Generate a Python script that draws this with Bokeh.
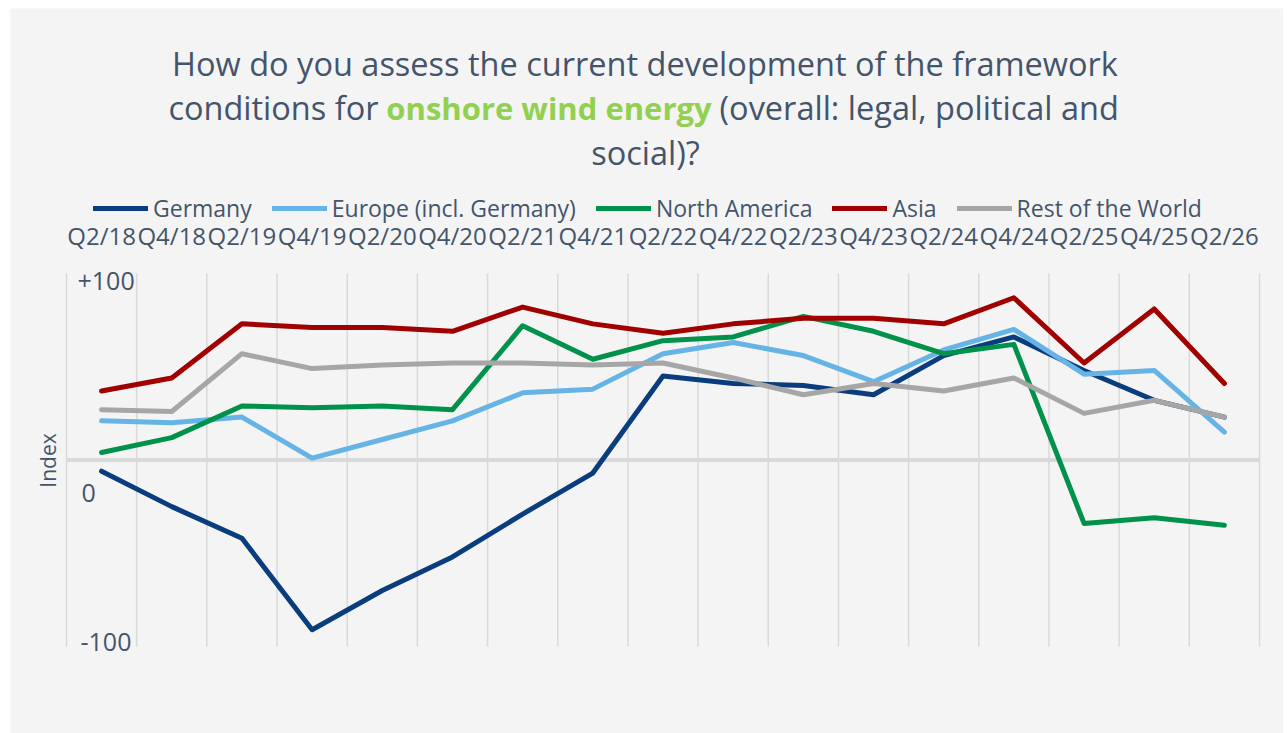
import math
from bokeh.plotting import figure
from bokeh.models import Range1d, Label, Legend, LegendItem
from bokeh.embed import file_html
from bokeh.resources import INLINE

# ---------------- data ----------------
quarters = ["Q2/18", "Q4/18", "Q2/19", "Q4/19", "Q2/20", "Q4/20", "Q2/21", "Q4/21",
            "Q2/22", "Q4/22", "Q2/23", "Q4/23", "Q2/24", "Q4/24", "Q2/25", "Q4/25", "Q2/26"]
germany = [-6, -25, -42, -91, -70, -52, -29, -7, 45, 41, 40, 35, 56, 66, 48, 32, 23]
europe = [21, 20, 23, 1, 11, 21, 36, 38, 57, 63, 56, 42, 59, 70, 46, 48, 15]
north_america = [4, 12, 29, 28, 29, 27, 72, 54, 64, 66, 77, 69, 57, 62, -34, -31, -35]
asia = [37, 44, 73, 71, 71, 69, 82, 73, 68, 73, 76, 76, 73, 87, 52, 81, 41]
rest_of_world = [27, 26, 57, 49, 51, 52, 52, 51, 52, 44, 35, 41, 37, 44, 25, 32, 23]

series_names = ["Germany", "Europe (incl. Germany)", "North America", "Asia", "Rest of the World"]
series_values = [germany, europe, north_america, asia, rest_of_world]
series_colors = ["#0a3d7e", "#66b4e6", "#00914b", "#a00000", "#a6a6a6"]

TEXT = "#44546a"
GREEN = "#92d050"
BG = "#f4f4f4"
FONT = "Open Sans"

n = len(quarters)
xs = [i + 0.5 for i in range(n)]

# page-pixel geometry of the panel and of the plotting area
PX0, PY0 = 10, 8            # panel top-left on the page
W, H = 1273, 725            # panel size
AL, AT, AW, AH = 66, 273, 1193, 373   # plotting area (page pixels)
YMIN, YMAX = -100, 100


def fx(page_x):
    return (page_x - AL) * n / AW


def fy(page_y):
    return YMAX - (page_y - AT) * (YMAX - YMIN) / AH


p = figure(width=W, height=H,
           x_range=Range1d(fx(PX0), fx(PX0 + W)),
           y_range=Range1d(fy(PY0 + H), fy(PY0)),
           output_backend="svg", toolbar_location=None,
           x_axis_location=None, y_axis_location=None,
           min_border=0, title=None)
p.margin = (PY0, 0, 0, PX0)
p.background_fill_color = BG
p.border_fill_color = BG
p.outline_line_color = None
p.grid.visible = False

# vertical gridlines between categories and the zero line
gx = list(range(n + 1))
p.segment(x0=gx, y0=[YMIN] * len(gx), x1=gx, y1=[YMAX] * len(gx),
          line_color="#d9d9d9", line_width=1.5)
p.segment(x0=[0], y0=[0], x1=[n], y1=[0], line_color="#d9d9d9", line_width=4)

# category labels on top
p.text(x=xs, y=[fy(235)] * n, text=quarters, text_font={"value": FONT},
       text_font_size="24px", text_color=TEXT, text_align="center", text_baseline="middle")

renderers = []
for name, vals, col in zip(series_names, series_values, series_colors):
    r = p.line(xs, vals, line_color=col, line_width=5, line_cap="round", line_join="round")
    renderers.append(r)

legend = Legend(items=[LegendItem(label=nm, renderers=[r]) for nm, r in zip(series_names, renderers)],
                orientation="horizontal", location=(93 - PX0, PY0 + H - 224),
                glyph_width=55, glyph_height=30, label_height=30, label_standoff=5,
                spacing=20, padding=0, margin=0,
                border_line_alpha=0, background_fill_alpha=0,
                label_text_font=FONT, label_text_font_size="23px", label_text_color=TEXT)
p.add_layout(legend, "center")


def lab(text, px, py, size="32px", align="center", color=TEXT, style="normal",
        baseline="alphabetic", angle=0.0):
    p.add_layout(Label(x=fx(px), y=fy(py), text=text, text_font=FONT, text_font_size=size,
                       text_color=color, text_align=align, text_baseline=baseline,
                       text_font_style=style, angle=angle))


# title
lab("How do you assess the current development of the framework", 644.5, 63, size="32.5px")
lab("conditions for", 378, 107, align="right", size="32.5px")
lab("onshore wind energy", 548.5, 107, size="31px", color=GREEN, style="bold")
lab("(overall: legal, political and", 719, 107, align="left", size="32.5px")
lab("social)?", 645, 152, size="32.5px")

# y-axis texts
lab("+100", 77, 280, size="25px", align="left", baseline="middle")
lab("0", 81, 492, size="25px", align="left", baseline="middle")
lab("-100", 80, 641, size="25px", align="left", baseline="middle")
lab("Index", 47, 460, size="21px", align="center", baseline="middle", angle=math.pi / 2)

open("out.html", "w").write(file_html(p, INLINE))
